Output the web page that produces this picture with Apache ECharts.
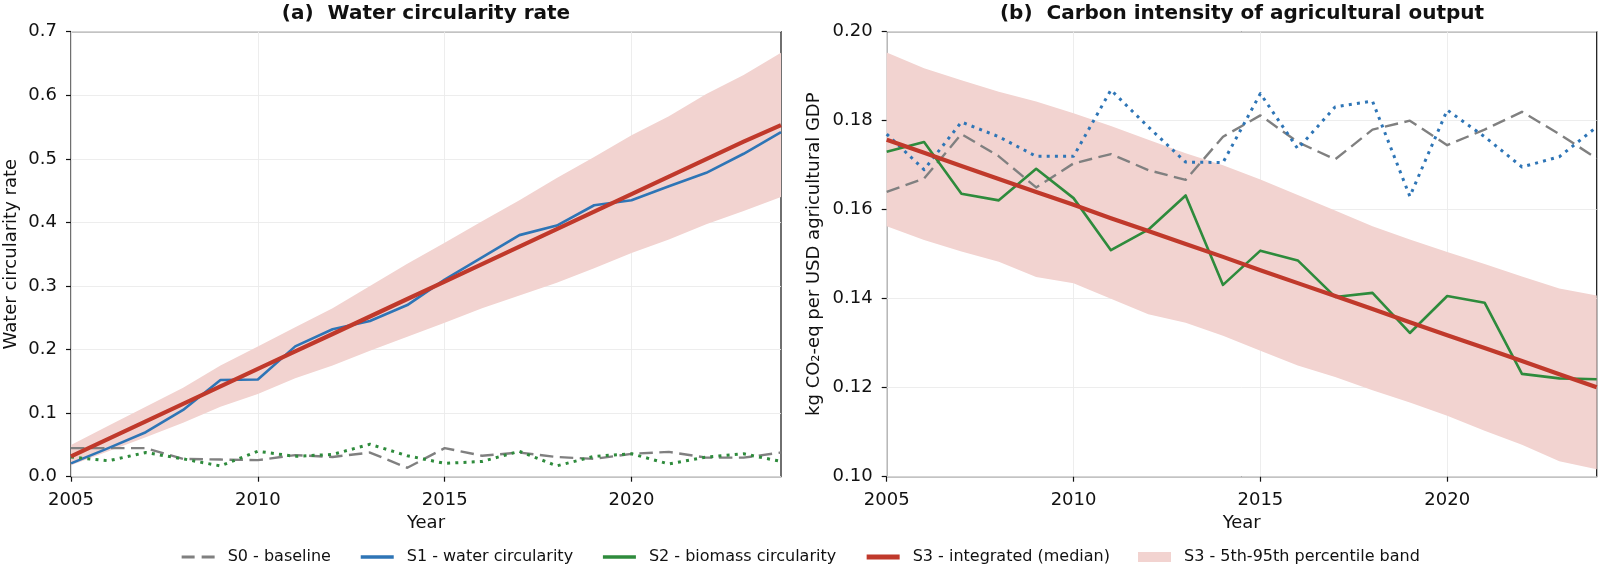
<!DOCTYPE html>
<html>
<head>
<meta charset="utf-8">
<script src="https://cdn.jsdelivr.net/npm/echarts@6/dist/echarts.min.js"></script>
<style>
html,body{margin:0;padding:0;background:#fff;}
#chart{width:1600px;height:569px;}
</style>
</head>
<body>
<div id="chart"></div>
<script>
// ---- data ----
const years = [2005,2006,2007,2008,2009,2010,2011,2012,2013,2014,2015,2016,2017,2018,2019,2020,2021,2022,2023,2024];

// Panel (a): water circularity rate
const waterS0 = [0.045,0.045,0.045,0.028,0.027,0.026,0.034,0.031,0.038,0.014,0.045,0.033,0.038,0.031,0.028,0.036,0.039,0.030,0.030,0.038];
const waterS1 = [0.021,0.045,0.070,0.105,0.152,0.153,0.205,0.232,0.245,0.270,0.310,0.345,0.380,0.395,0.427,0.435,0.457,0.478,0.508,0.542];
const waterS2 = [0.031,0.025,0.038,0.028,0.017,0.040,0.032,0.035,0.051,0.033,0.021,0.024,0.040,0.017,0.032,0.036,0.020,0.031,0.036,0.024];
const waterS3 = [0.032,0.0595,0.087,0.1145,0.142,0.1695,0.197,0.2245,0.252,0.2795,0.307,0.3345,0.362,0.3895,0.417,0.4445,0.472,0.4995,0.527,0.553];
const waterLow = [0.018,0.040,0.062,0.085,0.110,0.130,0.155,0.175,0.198,0.220,0.242,0.265,0.285,0.305,0.328,0.352,0.373,0.397,0.418,0.440];
const waterHigh = [0.050,0.080,0.110,0.140,0.175,0.205,0.235,0.265,0.300,0.335,0.368,0.402,0.435,0.470,0.503,0.537,0.567,0.602,0.632,0.667];

// Panel (b): carbon intensity
const carbS0 = [0.164,0.167,0.177,0.172,0.165,0.1704,0.1725,0.1689,0.1667,0.1764,0.1812,0.1752,0.1713,0.1780,0.1800,0.1745,0.1780,0.1820,0.1770,0.1715];
const carbS1 = [0.177,0.169,0.1797,0.1764,0.172,0.172,0.1869,0.1786,0.1707,0.1706,0.1861,0.1737,0.1831,0.1844,0.1630,0.1824,0.1764,0.1696,0.1719,0.1786];
const carbS2 = [0.173,0.1752,0.1636,0.1621,0.1692,0.1626,0.1509,0.1555,0.1632,0.1431,0.1508,0.1486,0.1404,0.1413,0.1323,0.1406,0.1391,0.1231,0.1221,0.1219];
const carbS3 = [0.1757,0.1728,0.1698,0.1669,0.1640,0.1611,0.1581,0.1552,0.1523,0.1494,0.1464,0.1435,0.1406,0.1377,0.1347,0.1318,0.1289,0.1260,0.1230,0.1201];
const carbLow = [0.1563,0.1532,0.1506,0.1483,0.1449,0.1435,0.1400,0.1365,0.1346,0.1317,0.1283,0.1250,0.1224,0.1194,0.1167,0.1137,0.1103,0.1072,0.1035,0.1017];
const carbHigh = [0.1953,0.1918,0.1891,0.1865,0.1843,0.1817,0.1788,0.1757,0.1727,0.1700,0.1668,0.1633,0.1598,0.1563,0.1533,0.1505,0.1478,0.1450,0.1423,0.1407];

const xTicks = [2005,2010,2015,2020];
const names = ['S0 - baseline','S1 - water circularity','S2 - biomass circularity','S3 - integrated (median)','S3 - 5th-95th percentile band'];
const titles = ['(a)  Water circularity rate','(b)  Carbon intensity of agricultural output'];
const yNames = ['Water circularity rate','kg CO\u2082-eq per USD agricultural GDP'];

// ---- styles ----
const FONT = 'DejaVu Sans';
const C_GREY = '#808080', C_BLUE = '#2e75b6', C_GREEN = '#2e8b3c', C_RED = '#c0392b', C_BAND = '#f2d3d0';

const pairs = arr => years.map((y,i)=>[y, arr[i]]);

function xAxisOf(idx){
  return {
    type:'value', gridIndex: idx, min:2005, max:2024, interval:5,
    name:'Year', nameLocation:'middle', nameGap:36,
    nameTextStyle:{fontFamily:FONT,fontSize:18,color:'#111'},
    axisLine:{show:false},
    axisTick:{show:true,inside:false,length:5,lineStyle:{color:'#111',width:1.2},customValues:xTicks},
    axisLabel:{fontFamily:FONT,fontSize:18,color:'#111',margin:15,customValues:xTicks,
      formatter: v => (xTicks.indexOf(v)>=0 ? String(v) : '')},
    splitLine:{show:true,lineStyle:{color:'#ebebeb',width:0.9}}
  };
}
function yAxisOf(idx, min, max, interval, dec, gap){
  return {
    type:'value', gridIndex: idx, min:min, max:max, interval:interval,
    name: yNames[idx], nameLocation:'middle', nameGap:gap,
    nameTextStyle:{fontFamily:FONT,fontSize:18,color:'#111'},
    axisLine:{show:false},
    axisTick:{show:true,inside:false,length:5,lineStyle:{color:'#111',width:1.2}},
    axisLabel:{fontFamily:FONT,fontSize:18,color:'#111',margin:14,formatter: v => v.toFixed(dec)},
    splitLine:{show:true,lineStyle:{color:'#ebebeb',width:0.9}}
  };
}
function lineSeries(name, idx, data, color, width, type, z){
  return {
    name:name, type:'line', xAxisIndex:idx, yAxisIndex:idx, data:pairs(data),
    symbol:'none', showSymbol:false, silent:true, z:z,
    itemStyle:{color:color},
    lineStyle:{color:color,width:width,type:type,cap:'butt',join:'round'}
  };
}
function bandSeries(idx, lo, hi){
  return {
    name:names[4], type:'custom', xAxisIndex:idx, yAxisIndex:idx, z:1, silent:true,
    itemStyle:{color:C_BAND},
    data: years.map((y,i)=>[y, lo[i], hi[i]]),
    encode:{x:0, y:[1,2]},
    renderItem: function(params, api){
      if (params.dataIndex !== 0) return null;
      const top = years.map((y,i)=>api.coord([y, hi[i]]));
      const bot = years.map((y,i)=>api.coord([y, lo[i]])).reverse();
      return {type:'polygon', shape:{points: top.concat(bot)}, style:{fill:C_BAND, stroke:null}};
    }
  };
}

const dotted = [3,5.2];
const dashed = [13.5,6.5];

const series = [
  bandSeries(0, waterLow, waterHigh),
  lineSeries(names[0],0,waterS0,C_GREY,2.4,dashed,3),
  lineSeries(names[1],0,waterS1,C_BLUE,2.6,'solid',3),
  lineSeries(names[2],0,waterS2,C_GREEN,3,dotted,3),
  lineSeries(names[3],0,waterS3,C_RED,4.2,'solid',4),
  bandSeries(1, carbLow, carbHigh),
  lineSeries(names[0],1,carbS0,C_GREY,2.4,dashed,3),
  lineSeries(names[1],1,carbS1,C_BLUE,3,dotted,3),
  lineSeries(names[2],1,carbS2,C_GREEN,2.6,'solid',3),
  lineSeries(names[3],1,carbS3,C_RED,4.2,'solid',4)
];

const option = {
  backgroundColor:'#fff',
  animation:false,
  textStyle:{fontFamily:FONT},
  title:[
    {text:titles[0], left:426, top:4, textAlign:'center', padding:0,
     textStyle:{fontFamily:FONT,fontSize:20,fontWeight:'bold',color:'#111'}},
    {text:titles[1], left:1242, top:4, textAlign:'center', padding:0,
     textStyle:{fontFamily:FONT,fontSize:20,fontWeight:'bold',color:'#111'}}
  ],
  grid:[
    {left:71, top:31.7, width:710, height:445, show:true, borderColor:'#111', borderWidth:1.2, backgroundColor:'transparent', containLabel:false},
    {left:886.7, top:31.7, width:710, height:445, show:true, borderColor:'#111', borderWidth:1.2, backgroundColor:'transparent', containLabel:false}
  ],
  xAxis:[xAxisOf(0), xAxisOf(1)],
  yAxis:[yAxisOf(0,0,0.7,0.1,1,51), yAxisOf(1,0.10,0.20,0.02,2,63)],
  legend:{
    left:'center', top:549, padding:0, itemGap:28, itemWidth:33, itemHeight:10,
    textStyle:{fontFamily:FONT,fontSize:16,color:'#111',padding:[0,0,0,8]},
    itemStyle:{opacity:0},
    selectedMode:false,
    data:[
      {name:names[0], lineStyle:{width:3, type:[13,7]}},
      {name:names[1], lineStyle:{width:3.6}},
      {name:names[2], lineStyle:{type:'solid', width:3.6}},
      {name:names[3], lineStyle:{width:5}},
      {name:names[4], icon:'rect', itemStyle:{color:C_BAND, opacity:1}}
    ]
  },
  series: series
};

const chart = echarts.init(document.getElementById('chart'), null, {renderer:'canvas'});
chart.setOption(option);
</script>
</body>
</html>
